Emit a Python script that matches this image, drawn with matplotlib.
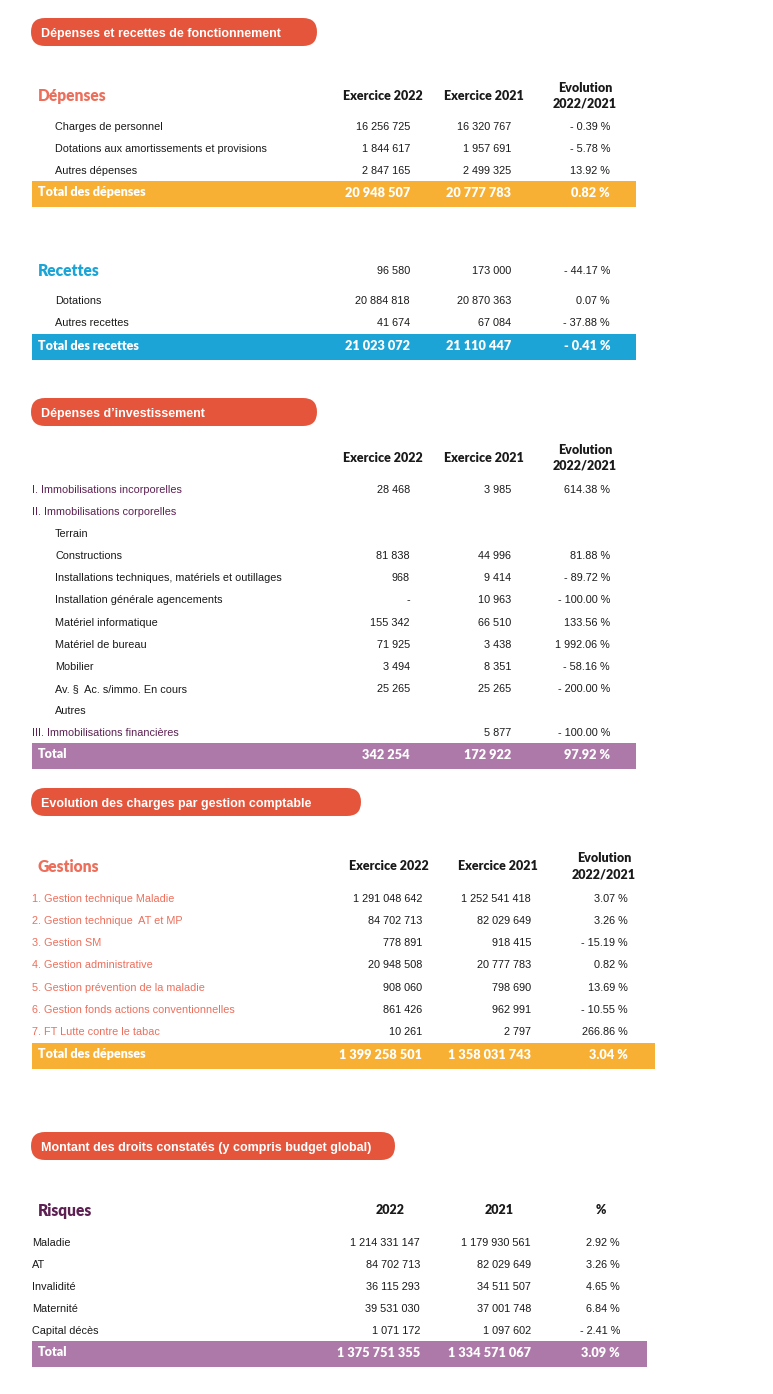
import matplotlib
matplotlib.use("Agg")
import matplotlib.pyplot as plt
from matplotlib.patches import FancyBboxPatch

# ---- data -------------------------------------------------------------
titles = ["Dépenses et recettes de fonctionnement",
          "Dépenses d\u2019investissement",
          "Evolution des charges par gestion comptable",
          "Montant des droits constatés (y compris budget global)"]
headers = ["Exercice 2022", "Exercice 2021", "Evolution\n2022/2021"]
risk_headers = ["2022", "2021", "%"]

dep_labels = ["Charges de personnel",
              "Dotations aux amortissements et provisions",
              "Autres dépenses"]
dep_2022 = [16256725, 1844617, 2847165]
dep_2021 = [16320767, 1957691, 2499325]
dep_evol = [-0.39, -5.78, 13.92]
dep_total = [20948507, 20777783, 0.82]

rec_first = [96580, 173000, -44.17]
rec_labels = ["Dotations", "Autres recettes"]
rec_2022 = [20884818, 41674]
rec_2021 = [20870363, 67084]
rec_evol = [0.07, -37.88]
rec_total = [21023072, 21110447, -0.41]

inv_labels = ["I. Immobilisations incorporelles",
              "II. Immobilisations corporelles",
              "Terrain",
              "Constructions",
              "Installations techniques, matériels et outillages",
              "Installation générale agencements",
              "Matériel informatique",
              "Matériel de bureau",
              "Mobilier",
              "Av. §  Ac. s/immo. En cours",
              "Autres",
              "III. Immobilisations financières"]
inv_2022 = [28468, None, None, 81838, 968, 0, 155342, 71925, 3494, 25265, None, None]
inv_2021 = [3985, None, None, 44996, 9414, 10963, 66510, 3438, 8351, 25265, None, 5877]
inv_evol = [614.38, None, None, 81.88, -89.72, -100.00, 133.56, 1992.06, -58.16,
            -200.00, None, -100.00]
inv_total = [342254, 172922, 97.92]

ges_labels = ["1. Gestion technique Maladie",
              "2. Gestion technique  AT et MP",
              "3. Gestion SM",
              "4. Gestion administrative",
              "5. Gestion prévention de la maladie",
              "6. Gestion fonds actions conventionnelles",
              "7. FT Lutte contre le tabac"]
ges_2022 = [1291048642, 84702713, 778891, 20948508, 908060, 861426, 10261]
ges_2021 = [1252541418, 82029649, 918415, 20777783, 798690, 962991, 2797]
ges_evol = [3.07, 3.26, -15.19, 0.82, 13.69, -10.55, 266.86]
ges_total = [1399258501, 1358031743, 3.04]

risk_labels = ["Maladie", "AT", "Invalidité", "Maternité", "Capital décès"]
risk_2022 = [1214331147, 84702713, 36115293, 39531030, 1071172]
risk_2021 = [1179930561, 82029649, 34511507, 37001748, 1097602]
risk_pct = [2.92, 3.26, 4.65, 6.84, -2.41]
risk_total = [1375751355, 1334571067, 3.09]

# ---- style ------------------------------------------------------------
RED = "#e5553b"
ORANGE = "#f7b033"
BLUE = "#1ca4d7"
PURPLE = "#ad79a9"
SALMON = "#ec6f5c"
PLUM = "#5c2152"
INK = "#1a1a1a"
BODY = ["Liberation Sans", "DejaVu Sans"]
HEAD = ["Lato", "DejaVu Sans"]
BODY_SIZE = 7.8


def fmt_num(v):
    if v is None:
        return ""
    if v == 0:
        return "-"
    return f"{v:,}".replace(",", " ")


def fmt_pct(v):
    if v is None:
        return ""
    s = f"{abs(v):,.2f}".replace(",", " ") + " %"
    return "- " + s if v < 0 else s


fig = plt.figure(figsize=(7.73, 13.94), dpi=100)
ax = fig.add_axes([0, 0, 1, 1])
ax.set_xlim(0, 773)
ax.set_ylim(1394, 0)
ax.axis("off")


def txt(x, y, s, size, **kw):
    # y is the visual centre of the capitals; put the baseline below it
    cap = size * 100 / 72 * 0.72
    ax.text(x, y + cap / 2, s, fontsize=size, va="baseline", **kw)


def pill(text, y, width):
    ax.add_patch(FancyBboxPatch((31, y - 14), width, 28,
                                boxstyle="round,pad=0,rounding_size=14",
                                fc=RED, ec="none"))
    txt(41, y, text, 9.0, color="white", fontweight="bold", family=BODY)


def col_headers(y, xs, labels):
    for x, lab in zip(xs, labels):
        parts = lab.split("\n")
        offsets = [0] if len(parts) == 1 else [-8, 8]
        for p, dy in zip(parts, offsets):
            txt(x, y + dy, p, 9.0, family=HEAD, fontweight="heavy",
                color=INK, ha="center")


def values(y, vals, rights, size=BODY_SIZE, **kw):
    strs = [fmt_num(vals[0]), fmt_num(vals[1]), fmt_pct(vals[2])]
    for r, s in zip(rights, strs):
        txt(r, y, s, size, ha="right", **kw)


def rows(labels, c1, c2, c3, y0, step, rights, label_color, indent_rule):
    for i, lab in enumerate(labels):
        y = y0 + i * step
        x = 32 if indent_rule(lab) else 55
        txt(x, y, lab, BODY_SIZE, family=BODY, color=label_color(lab))
        values(y, [c1[i], c2[i], c3[i]], rights, family=BODY, color=INK)


def total_band(label, vals, y, x1, rights, color):
    ax.barh(y + 2, x1 - 32, left=32, height=26, color=color)
    txt(38, y, label, 9.0, family=HEAD, fontweight="heavy", color="white")
    values(y, vals, rights, size=9.2, family=HEAD, fontweight="heavy", color="white")


def big_label(text, y, color):
    txt(38, y, text, 11.2, family=HEAD, fontweight="heavy", color=color)


# section 1 : fonctionnement
r1 = [410, 511, 610]
pill(titles[0], 32, 286)
big_label("Dépenses", 95, SALMON)
col_headers(95, [383, 484, 585], headers)
rows(dep_labels, dep_2022, dep_2021, dep_evol, 126, 22, r1,
     lambda s: INK, lambda s: False)
total_band("Total des dépenses", dep_total, 192, 636, r1, ORANGE)

big_label("Recettes", 270, BLUE)
values(270, rec_first, r1, family=BODY, color=INK)
rows(rec_labels, rec_2022, rec_2021, rec_evol, 300, 22, r1,
     lambda s: INK, lambda s: False)
total_band("Total des recettes", rec_total, 345, 636, r1, BLUE)

# section 2 : investissement
is_top = lambda s: s.split(".")[0] in ("I", "II", "III")
pill(titles[1], 412, 286)
col_headers(457, [383, 484, 585], headers)
rows(inv_labels, inv_2022, inv_2021, inv_evol, 489, 22.1, r1,
     lambda s: PLUM if is_top(s) else INK, is_top)
total_band("Total", inv_total, 754, 636, r1, PURPLE)

# section 3 : gestions
r3 = [422, 531, 628]
pill(titles[2], 802, 330)
big_label("Gestions", 866, SALMON)
col_headers(866, [389, 498, 604], headers)
rows(ges_labels, ges_2022, ges_2021, ges_evol, 898, 22.2, r3,
     lambda s: SALMON, lambda s: True)
total_band("Total des dépenses", ges_total, 1054, 655, r3, ORANGE)

# section 4 : droits constatés
r4 = [420, 531, 620]
pill(titles[3], 1146, 364)
big_label("Risques", 1210, PLUM)
col_headers(1210, [390, 499, 601], risk_headers)
rows(risk_labels, risk_2022, risk_2021, risk_pct, 1242, 22, r4,
     lambda s: INK, lambda s: True)
total_band("Total", risk_total, 1352, 647, r4, PURPLE)

fig.savefig("out.png", dpi=100, facecolor="white")
